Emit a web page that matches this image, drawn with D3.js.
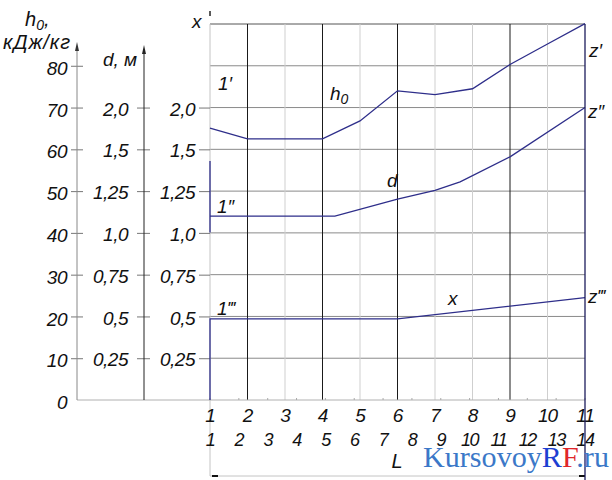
<!DOCTYPE html>
<html>
<head>
<meta charset="utf-8">
<script src="https://cdn.jsdelivr.net/npm/d3@7/dist/d3.min.js"></script>
<style>
  body { margin: 0; background: #fff; }
  svg { display: block; }
  text { font-family: "Liberation Sans", Arial, sans-serif; font-style: italic; fill: #111; }
  .tick text { font-size: 19px; letter-spacing: -0.5px; }
  .lbl { font-size: 19px; }
  .wm { font-family: "Liberation Serif", "Times New Roman", serif; font-style: normal; font-size: 29px; }
</style>
</head>
<body>
<div class="chart"></div>
<script>
// column labels along the bottom
var topLabels = [1, 2, 3, 4, 5, 6, 7, 8, 9, 10, 11];
var bottomLabels = [1, 2, 3, 4, 5, 6, 7, 8, 9, 10, 11, 12, 13, 14];
var darkColumns = [2, 4, 6, 9];
var lightColumns = [3, 5, 7, 8, 10];

// left scales: h0 in kJ/kg, d and x share the same grid levels
var h0Ticks = [0, 10, 20, 30, 40, 50, 60, 70, 80];
var gridLevels = [10, 20, 30, 40, 50, 60, 70, 80, 90];
var scaleLevels = [10, 20, 30, 40, 50, 60, 70];
var dTickLabels = ['0,25', '0,5', '0,75', '1,0', '1,25', '1,5', '2,0'];
var xTickLabels = ['0,25', '0,5', '0,75', '1,0', '1,25', '1,5', '2,0'];

// curves, read in h0 units against the top column numbers
var h0Pos  = [1, 2, 3, 4, 5, 6, 7, 8, 9, 10, 11];
var h0Vals = [65.1, 62.5, 62.5, 62.5, 66.8, 74.0, 73.1, 74.5, 80.3, 85.2, 90.1];

var dPos  = [1, 4.33, 6, 7, 7.67, 9, 11];
var dVals = [44.0, 44.0, 48.1, 50.2, 52.2, 58.2, 70.0];
var dStub = [40.1, 57.2];

var xPos  = [1, 1, 6, 11];
var xVals = [0, 19.4, 19.4, 24.5];

var W = 612, H = 480;
var plotL = 210, plotR = 585, plotT = 24, plotB = 400;

var svg = d3.select('.chart').append('svg')
    .attr('width', W)
    .attr('height', H);

var y = d3.scaleLinear().domain([0, 90]).range([plotB, plotT]);
var x = d3.scaleLinear().domain([1, 11]).range([plotL, plotR]);
var xL = d3.scaleLinear().domain([1, 14]).range([plotL, plotR]);

// grid
var grid = svg.append('g');
grid.selectAll('line.h')
    .data(gridLevels)
    .enter().append('line')
      .attr('x1', plotL).attr('x2', plotR)
      .attr('y1', function(d) { return y(d); })
      .attr('y2', function(d) { return y(d); })
      .attr('stroke', function(d) { return d === 90 ? '#555' : '#8a8a8a'; })
      .attr('stroke-width', 1);

grid.selectAll('line.light')
    .data(lightColumns)
    .enter().append('line')
      .attr('x1', function(d) { return x(d); })
      .attr('x2', function(d) { return x(d); })
      .attr('y1', plotT).attr('y2', plotB)
      .attr('stroke', '#cfcfcf');

grid.selectAll('line.dark')
    .data(darkColumns)
    .enter().append('line')
      .attr('x1', function(d) { return x(d); })
      .attr('x2', function(d) { return x(d); })
      .attr('y1', plotT).attr('y2', plotB)
      .attr('stroke', '#1a1a1a');

// left border + extension down to the dimension line
grid.append('line')
    .attr('x1', plotL).attr('x2', plotL)
    .attr('y1', plotT).attr('y2', 476)
    .attr('stroke', '#c4c4c4');
grid.append('line')
    .attr('x1', plotL).attr('x2', plotL)
    .attr('y1', 11).attr('y2', 16)
    .attr('stroke', '#222').attr('stroke-width', 1.5);

// bottom baseline from h0 axis to right edge
grid.append('line')
    .attr('x1', 77).attr('x2', plotR)
    .attr('y1', plotB).attr('y2', plotB)
    .attr('stroke', '#b0b0b0');

// small ticks of the 1..14 scale
grid.selectAll('line.bt')
    .data(bottomLabels)
    .enter().append('line')
      .attr('x1', function(d) { return xL(d); })
      .attr('x2', function(d) { return xL(d); })
      .attr('y1', plotB - 2).attr('y2', plotB)
      .attr('stroke', '#aaa');

// dimension line
grid.append('line')
    .attr('x1', plotL).attr('x2', plotR)
    .attr('y1', 476).attr('y2', 476)
    .attr('stroke', '#c4c4c4');
grid.selectAll('line.dim')
    .data([[212, 218], [579, 585]])
    .enter().append('line')
      .attr('x1', function(d) { return d[0]; })
      .attr('x2', function(d) { return d[1]; })
      .attr('y1', 476).attr('y2', 476)
      .attr('stroke', '#111').attr('stroke-width', 2);

// h0 axis
var h0Axis = svg.append('g')
    .attr('transform', 'translate(77,0)')
    .call(d3.axisLeft(y).tickValues(h0Ticks).tickSize(6).tickPadding(4));
h0Axis.select('.domain').remove();
h0Axis.selectAll('.tick line')
    .attr('x2', -6).attr('x1', 6).attr('stroke', '#777')
    .filter(function(d) { return d === 0; }).remove();
h0Axis.selectAll('.tick text').attr('dy', '0.45em');
h0Axis.append('line')
    .attr('y1', 46).attr('y2', plotB)
    .attr('stroke', '#888');
h0Axis.append('path')
    .attr('d', 'M0,42L-2,51L2,51Z')
    .attr('fill', '#333');

// d axis
var dAxis = svg.append('g')
    .attr('transform', 'translate(144,0)')
    .call(d3.axisLeft(y).tickValues(scaleLevels).tickSize(6).tickPadding(10)
      .tickFormat(function(d, i) { return dTickLabels[i]; }));
dAxis.select('.domain').remove();
dAxis.selectAll('.tick line').attr('x2', -7).attr('x1', 6).attr('stroke', '#777');
dAxis.selectAll('.tick text').attr('dy', '0.4em');
dAxis.append('line')
    .attr('y1', 49).attr('y2', plotB)
    .attr('stroke', '#222');
dAxis.append('path')
    .attr('d', 'M0,45L-2,54L2,54Z')
    .attr('fill', '#222');

// x axis on the left border
var xAxis = svg.append('g')
    .attr('transform', 'translate(' + plotL + ',0)')
    .call(d3.axisLeft(y).tickValues(scaleLevels).tickSize(11).tickPadding(4)
      .tickFormat(function(d, i) { return xTickLabels[i]; }));
xAxis.select('.domain').remove();
xAxis.selectAll('.tick line').attr('stroke', '#777');
xAxis.selectAll('.tick text').attr('dy', '0.4em');

// axis titles
var t1 = svg.append('text').attr('class', 'lbl').attr('x', 25).attr('y', 26).style('font-size', '20px');
t1.append('tspan').text('h');
t1.append('tspan').attr('dy', 4).style('font-size', '14px').text('0');
t1.append('tspan').attr('dy', -4).text(',');
svg.append('text').attr('class', 'lbl').attr('x', 3).attr('y', 49)
    .style('font-size', '20px').style('letter-spacing', '1px').text('кДж/кг');
svg.append('text').attr('class', 'lbl').attr('x', 103).attr('y', 66).text('d, м');
svg.append('text').attr('class', 'lbl').attr('x', 192).attr('y', 28).text('x');

// bottom labels
svg.selectAll('text.top')
    .data(topLabels)
    .enter().append('text')
      .attr('class', 'lbl')
      .attr('x', function(d) { return x(d); })
      .attr('y', 422)
      .attr('text-anchor', 'middle')
      .style('font-size', '19px')
      .style('letter-spacing', '-1px')
      .text(function(d) { return d; });
svg.selectAll('text.bot')
    .data(bottomLabels)
    .enter().append('text')
      .attr('class', 'lbl')
      .attr('x', function(d) { return xL(d); })
      .attr('y', 446)
      .attr('text-anchor', 'middle')
      .style('font-size', '18px')
      .style('letter-spacing', '-1.5px')
      .text(function(d) { return d; });
svg.append('text').attr('class', 'lbl')
    .attr('x', 397).attr('y', 468).attr('text-anchor', 'middle')
    .style('font-size', '20px').text('L');

// curves
var line = d3.line()
    .x(function(d) { return x(d[0]); })
    .y(function(d) { return y(d[1]); });

function drawCurve(pos, vals) {
  svg.append('path')
      .datum(d3.zip(pos, vals))
      .attr('d', line)
      .attr('fill', 'none')
      .attr('stroke', '#2e2e8a')
      .attr('stroke-width', 1.3);
}
drawCurve(h0Pos, h0Vals);
drawCurve(dPos, dVals);
drawCurve([1, 1], dStub);
drawCurve(xPos, xVals);

// right border
svg.append('line')
    .attr('x1', plotR).attr('x2', plotR)
    .attr('y1', plotT).attr('y2', H)
    .attr('stroke', '#1c1c5c').attr('stroke-width', 1.3);

// curve labels
function label(px, py, main, sub) {
  var t = svg.append('text').attr('class', 'lbl').attr('x', px).attr('y', py);
  t.append('tspan').text(main);
  if (sub) t.append('tspan').attr('dy', 4).style('font-size', '14px').text(sub);
}
label(218, 90, '1′');
label(330, 100, 'h', '0');
label(217, 213, '1″');
label(387, 187, 'd');
label(217, 315, '1‴');
label(448, 305, 'x');
label(589, 57, 'z′');
label(588, 118, 'z″');
label(588, 303, 'z‴');

// watermark
var wm = svg.append('text').attr('class', 'wm')
    .attr('x', 423).attr('y', 467)
    .attr('textLength', 186).attr('lengthAdjust', 'spacingAndGlyphs');
wm.append('tspan').style('fill', '#3b78c8').text('Kursovoy');
wm.append('tspan').style('fill', '#1d3fd2').text('R');
wm.append('tspan').style('fill', '#e0262a').text('F');
wm.append('tspan').style('fill', '#3b78c8').text('.ru');
</script>
</body>
</html>
